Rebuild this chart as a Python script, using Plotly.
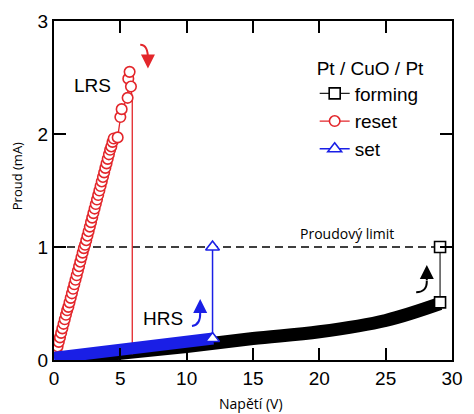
import plotly.graph_objects as go

# ---------------- data ----------------
# forming sweep (black, Pt/CuO/Pt virgin state) -> jumps to compliance
forming_v = [0.0, 5.0, 10.0, 15.0, 20.0, 25.0, 29.1]
forming_i = [0.0, 0.06, 0.12, 0.19, 0.25, 0.35, 0.50]
forming_jump_v = [29.1, 29.1]
forming_jump_i = [0.51, 1.00]

# reset sweep (red circles, LRS)
reset_v = [0.00, 0.09, 0.18, 0.27, 0.36, 0.45, 0.54, 0.63, 0.72, 0.81,
           0.90, 0.99, 1.08, 1.17, 1.26, 1.35, 1.44, 1.53, 1.62, 1.71,
           1.80, 1.89, 1.98, 2.07, 2.16, 2.25, 2.34, 2.43, 2.52, 2.61,
           2.70, 2.79, 2.88, 2.97, 3.06, 3.15, 3.24, 3.33, 3.42, 3.51,
           3.60, 3.69, 3.78, 3.87, 3.96, 4.05, 4.14, 4.23, 4.32, 4.41,
           4.50, 4.80, 5.00, 5.10, 5.55, 5.60, 5.70, 5.80]
reset_i = [0.00, 0.04, 0.08, 0.12, 0.16, 0.20, 0.24, 0.28, 0.32, 0.36,
           0.40, 0.44, 0.47, 0.51, 0.55, 0.59, 0.63, 0.67, 0.71, 0.75,
           0.79, 0.83, 0.87, 0.91, 0.95, 0.99, 1.02, 1.06, 1.10, 1.14,
           1.18, 1.22, 1.26, 1.30, 1.34, 1.38, 1.42, 1.46, 1.50, 1.54,
           1.58, 1.62, 1.66, 1.70, 1.74, 1.78, 1.82, 1.86, 1.89, 1.93,
           1.96, 1.97, 2.15, 2.22, 2.32, 2.49, 2.55, 2.42]
reset_drop_v = [5.80, 5.90, 5.90]
reset_drop_i = [2.42, 2.30, 0.05]

# set sweep (blue triangles, HRS)
set_v = [0.0, 6.0, 12.0]
set_i = [0.02, 0.10, 0.19]
set_jump_v = [11.95, 11.95]
set_jump_i = [0.19, 1.00]

# compliance current
limit_v = [0.0, 30.0]
limit_i = [1.0, 1.0]

x_ticks = [0, 5, 10, 15, 20, 25, 30]
y_ticks = [0, 1, 2, 3]

RED = "#e3262b"
BLUE = "#1a1fe6"
BLACK = "#000000"
ARIAL = "Arial, Liberation Sans, sans-serif"
OPEN = "Open Sans, sans-serif"

fig = go.Figure()

# dashed compliance line
fig.add_trace(go.Scatter(x=limit_v, y=limit_i, mode="lines", showlegend=False,
                         line=dict(color=BLACK, width=1.6, dash="8px,5px"),
                         hoverinfo="skip"))
# forming band
fig.add_trace(go.Scatter(x=forming_v, y=forming_i, mode="lines", showlegend=False,
                         line=dict(color=BLACK, width=13, shape="spline")))
# forming jump (legend entry)
fig.add_trace(go.Scatter(x=forming_jump_v, y=forming_jump_i, mode="lines+markers",
                         name="forming",
                         line=dict(color="#222222", width=1.2),
                         marker=dict(symbol="square", size=11, color="white",
                                     line=dict(color=BLACK, width=1.6))))
# reset drop line
fig.add_trace(go.Scatter(x=reset_drop_v, y=reset_drop_i, mode="lines", showlegend=False,
                         line=dict(color=RED, width=1.3)))
# reset sweep
fig.add_trace(go.Scatter(x=reset_v, y=reset_i, mode="lines+markers", name="reset",
                         line=dict(color=RED, width=1.3),
                         marker=dict(symbol="circle", size=10.5, color="white",
                                     line=dict(color=RED, width=1.6))))
# set band
fig.add_trace(go.Scatter(x=set_v, y=set_i, mode="lines", showlegend=False,
                         line=dict(color=BLUE, width=12)))
# set jump (legend entry)
fig.add_trace(go.Scatter(x=set_jump_v, y=set_jump_i, mode="lines+markers", name="set",
                         line=dict(color=BLUE, width=1.5),
                         marker=dict(symbol="triangle-up", size=12, color="white",
                                     line=dict(color=BLUE, width=1.6))))

# curved arrows
arrows = [
    (RED, "M 6.50,2.79 Q 7.10,2.79 7.08,2.66", 7.08, 2.58, 7.08, 2.67),
    (BLUE, "M 10.40,0.30 Q 11.05,0.31 11.02,0.42", 11.02, 0.54, 11.02, 0.41),
    (BLACK, "M 27.30,0.60 Q 28.12,0.60 28.10,0.70", 28.10, 0.84, 28.10, 0.69),
]
for col, path, hx, hy, tx, ty in arrows:
    fig.add_shape(type="path", path=path, xref="x", yref="y",
                  line=dict(color=col, width=2))
    fig.add_annotation(x=hx, y=hy, ax=tx, ay=ty, xref="x", yref="y",
                       axref="x", ayref="y", text="", showarrow=True,
                       arrowhead=2, arrowsize=1.4, arrowwidth=2, arrowcolor=col)

fig.add_annotation(x=2.9, y=2.43, text="LRS", showarrow=False,
                   font=dict(family=ARIAL, size=19, color=BLACK))
fig.add_annotation(x=8.25, y=0.37, text="HRS", showarrow=False,
                   font=dict(family=ARIAL, size=19, color=BLACK))
fig.add_annotation(x=22.1, y=1.12, text="Proudový limit", showarrow=False,
                   font=dict(family=OPEN, size=14, color=BLACK))

# axis titles as annotations for exact placement
fig.add_annotation(x=0.495, y=-0.127, xref="paper", yref="paper", text="Napětí (V)",
                   xanchor="center", yanchor="middle",
                   showarrow=False, font=dict(family=OPEN, size=14, color=BLACK))
fig.add_annotation(x=-0.093, y=0.542, xref="paper", yref="paper", text="Proud (mA)",
                   xanchor="center", yanchor="middle",
                   textangle=-90, showarrow=False,
                   font=dict(family=OPEN, size=13, color=BLACK))

axis_common = dict(showline=True, linecolor=BLACK, linewidth=2, mirror="ticks",
                   ticks="inside", ticklen=12, tickwidth=2, tickcolor=BLACK,
                   showgrid=False, zeroline=False,
                   tickfont=dict(family=ARIAL, size=19, color=BLACK))
fig.update_xaxes(range=[0, 30], tickvals=x_ticks, **axis_common)
fig.update_yaxes(range=[0, 3], tickvals=y_ticks, **axis_common)

fig.update_layout(
    width=474, height=414, autosize=False,
    margin=dict(l=54, r=11, t=20, b=54),
    plot_bgcolor="white", paper_bgcolor="white",
    legend=dict(x=0.655, y=0.915, xanchor="left", yanchor="top",
                bgcolor="rgba(0,0,0,0)", tracegroupgap=0,
                font=dict(family=ARIAL, size=19, color=BLACK),
                title=dict(text="Pt / CuO / Pt", font=dict(family=ARIAL, size=19, color=BLACK))),
)

fig.write_html("out.html")
